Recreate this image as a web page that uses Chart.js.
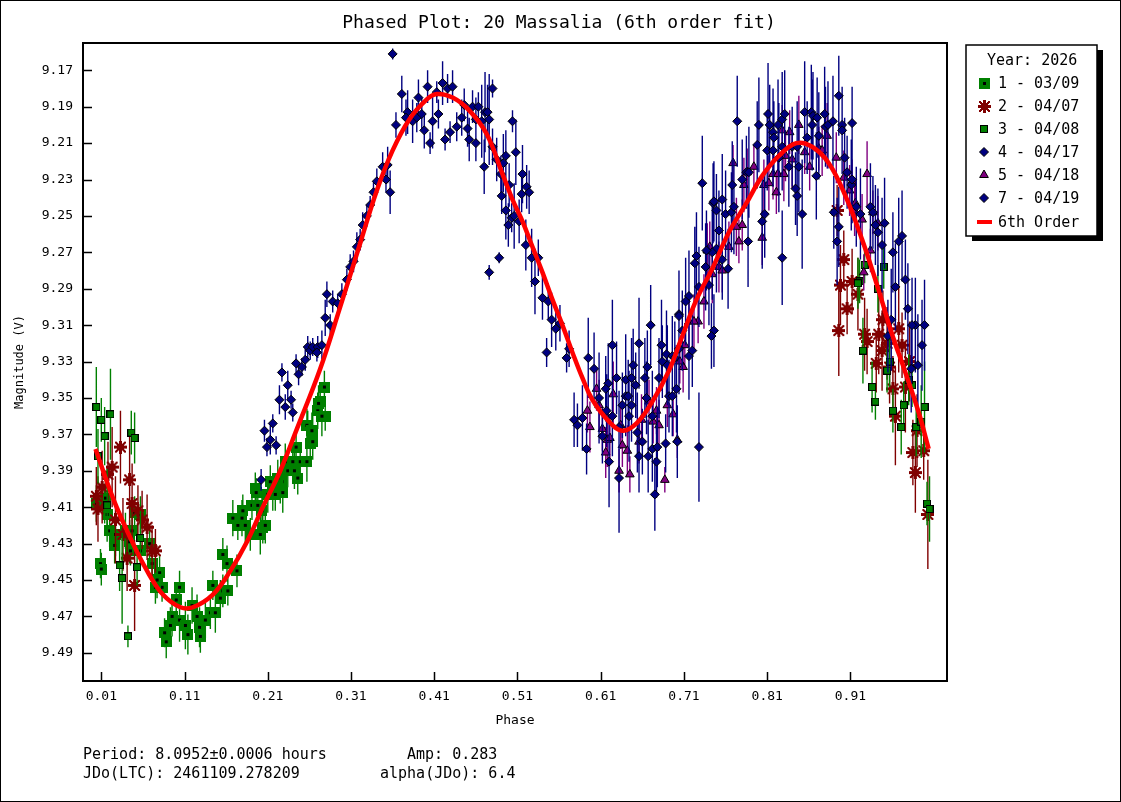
<!DOCTYPE html>
<html>
<head>
<meta charset="utf-8">
<script src="https://cdn.jsdelivr.net/npm/chart.js@4.4.1/dist/chart.umd.min.js"></script>
<style>
  html, body { margin: 0; padding: 0; background: #fff; }
  canvas { display: block; }
</style>
</head>
<body>
<canvas id="chart" width="1121" height="802"></canvas>
<script>
// axis ticks
const phaseTicks = [0.01, 0.11, 0.21, 0.31, 0.41, 0.51, 0.61, 0.71, 0.81, 0.91];
const magTicks = [9.17, 9.19, 9.21, 9.23, 9.25, 9.27, 9.29, 9.31, 9.33, 9.35, 9.37, 9.39, 9.41, 9.43, 9.45, 9.47, 9.49];

const legendTitle = 'Year: 2026';
const legendLabels = ['1 - 03/09', '2 - 04/07', '3 - 04/08', '4 - 04/17', '5 - 04/18', '7 - 04/19', '6th Order'];

// each row: [phase, magnitude, error]
const night1 = [
  [0.004,9.408,0.010],[0.009,9.441,0.008],[0.010,9.444,0.009],[0.015,9.405,0.012],[0.014,9.409,0.010],
  [0.017,9.414,0.011],[0.020,9.423,0.009],[0.026,9.431,0.010],[0.027,9.425,0.012],[0.039,9.423,0.010],
  [0.044,9.429,0.012],[0.050,9.413,0.009],[0.057,9.414,0.010],[0.047,9.423,0.011],[0.045,9.434,0.008],
  [0.057,9.434,0.009],[0.068,9.430,0.008],[0.071,9.441,0.010],[0.080,9.446,0.009],[0.077,9.450,0.010],
  [0.083,9.454,0.008],[0.075,9.454,0.009],[0.104,9.454,0.009],[0.100,9.461,0.008],[0.095,9.470,0.011],
  [0.093,9.475,0.010],[0.086,9.479,0.008],[0.088,9.484,0.009],[0.104,9.472,0.012],[0.111,9.475,0.013],
  [0.114,9.480,0.011],[0.119,9.464,0.010],[0.125,9.470,0.012],[0.128,9.476,0.011],[0.129,9.481,0.009],
  [0.135,9.472,0.010],[0.141,9.468,0.009],[0.147,9.468,0.011],[0.144,9.453,0.008],[0.153,9.460,0.010],
  [0.156,9.456,0.009],[0.162,9.456,0.008],[0.156,9.436,0.009],[0.161,9.441,0.010],[0.173,9.445,0.009],
  [0.168,9.416,0.010],[0.174,9.420,0.008],[0.180,9.412,0.009],[0.179,9.416,0.010],[0.189,9.425,0.009],
  [0.191,9.409,0.008],[0.195,9.400,0.009],[0.201,9.425,0.011],[0.204,9.421,0.009],[0.207,9.420,0.010],
  [0.203,9.412,0.008],[0.213,9.396,0.009],[0.216,9.402,0.010],[0.225,9.400,0.008],[0.228,9.402,0.011],
  [0.227,9.396,0.009],[0.231,9.385,0.010],[0.234,9.390,0.009],[0.240,9.385,0.008],[0.249,9.385,0.010],
  [0.257,9.385,0.011],[0.261,9.375,0.009],[0.264,9.374,0.010],[0.258,9.365,0.008],[0.264,9.368,0.009],
  [0.270,9.357,0.010],[0.273,9.352,0.009],[0.279,9.360,0.008],[0.278,9.344,0.009],[0.271,9.353,0.010],
  [0.275,9.360,0.011],[0.257,9.365,0.009],[0.263,9.368,0.010],[0.244,9.377,0.009],[0.242,9.390,0.010],
  [0.246,9.394,0.009],[0.222,9.394,0.010],[0.219,9.403,0.009],[0.196,9.402,0.008],[0.210,9.403,0.010],
  [0.198,9.409,0.009],[0.183,9.420,0.010]
];
const night2 = [
  [0.033,9.377,0.020],[0.023,9.388,0.022],[0.018,9.392,0.018],[0.044,9.395,0.025],[0.011,9.399,0.020],
  [0.004,9.404,0.016],[0.006,9.411,0.018],[0.047,9.408,0.022],[0.054,9.412,0.014],[0.059,9.417,0.016],
  [0.065,9.421,0.018],[0.027,9.417,0.024],[0.036,9.425,0.020],[0.071,9.434,0.014],[0.075,9.434,0.012],
  [0.041,9.438,0.018],[0.050,9.453,0.025],
  [0.894,9.247,0.014],[0.902,9.274,0.016],[0.898,9.288,0.022],[0.912,9.286,0.018],[0.919,9.293,0.020],
  [0.906,9.301,0.014],[0.896,9.313,0.025],[0.927,9.315,0.020],[0.930,9.319,0.018],[0.944,9.315,0.022],
  [0.949,9.307,0.016],[0.968,9.312,0.024],[0.954,9.320,0.020],[0.972,9.321,0.018],[0.948,9.324,0.022],
  [0.941,9.331,0.016],[0.957,9.333,0.020],[0.981,9.330,0.022],[0.961,9.345,0.018],[0.976,9.344,0.025],
  [0.964,9.360,0.027],[0.990,9.368,0.020],[0.985,9.380,0.018],[0.998,9.379,0.016],[0.988,9.391,0.022],
  [1.003,9.414,0.030]
];
const night3 = [
  [0.004,9.355,0.022],[0.010,9.362,0.012],[0.021,9.359,0.025],[0.014,9.371,0.016],[0.006,9.382,0.015],
  [0.046,9.369,0.012],[0.050,9.372,0.014],[0.017,9.409,0.020],[0.057,9.427,0.015],[0.032,9.442,0.014],
  [0.053,9.443,0.010],[0.035,9.449,0.025],[0.042,9.481,0.006],
  [0.950,9.278,0.012],[0.927,9.277,0.010],[0.921,9.286,0.012],[0.919,9.287,0.014],[0.943,9.290,0.013],
  [0.925,9.324,0.018],[0.936,9.344,0.014],[0.940,9.352,0.010],[0.954,9.335,0.012],[0.957,9.330,0.014],
  [0.961,9.357,0.012],[0.971,9.366,0.015],[0.974,9.354,0.013],[0.984,9.343,0.012],[0.980,9.340,0.014],
  [0.999,9.355,0.025],[0.989,9.366,0.016],[0.995,9.363,0.020],[1.002,9.408,0.012],[1.005,9.411,0.018]
];
const night4 = [
  [0.202,9.395,0.006],[0.206,9.368,0.006],[0.216,9.364,0.005],[0.213,9.373,0.008],[0.209,9.377,0.005],
  [0.220,9.376,0.005],[0.224,9.351,0.008],[0.231,9.355,0.007],[0.238,9.351,0.005],[0.240,9.358,0.005],
  [0.227,9.336,0.005],[0.234,9.343,0.008],[0.247,9.337,0.006],[0.244,9.331,0.005],[0.251,9.333,0.005],
  [0.255,9.329,0.006],[0.258,9.322,0.006],[0.261,9.324,0.005],[0.264,9.322,0.005],[0.270,9.322,0.006],
  [0.269,9.325,0.005],[0.275,9.321,0.008],[0.279,9.306,0.010],[0.285,9.310,0.006],[0.281,9.293,0.007],
  [0.288,9.297,0.006],[0.294,9.298,0.005],[0.299,9.293,0.006],[0.305,9.285,0.006],[0.309,9.278,0.007],
  [0.313,9.275,0.006],[0.317,9.267,0.008],[0.321,9.263,0.006],[0.324,9.255,0.007],[0.329,9.250,0.006],
  [0.333,9.244,0.005],[0.337,9.237,0.006],[0.341,9.231,0.007],[0.348,9.223,0.008],[0.354,9.222,0.010],
  [0.352,9.230,0.007],[0.357,9.237,0.012],[0.360,9.161,0.003],[0.371,9.183,0.010],[0.402,9.179,0.009],
  [0.420,9.177,0.012],[0.426,9.180,0.008],[0.432,9.179,0.009],[0.413,9.182,0.006],[0.391,9.185,0.010],
  [0.378,9.193,0.012],[0.364,9.200,0.007],[0.376,9.196,0.010],[0.384,9.198,0.012],[0.389,9.196,0.008],
  [0.395,9.194,0.009],[0.398,9.203,0.010],[0.408,9.198,0.015],[0.415,9.194,0.008],[0.405,9.210,0.006],
  [0.423,9.208,0.006],[0.429,9.204,0.006],[0.437,9.201,0.008],[0.443,9.196,0.010],[0.446,9.189,0.009],
  [0.456,9.190,0.009],[0.463,9.190,0.008],[0.460,9.197,0.012],[0.467,9.198,0.020],[0.471,9.193,0.022],
  [0.474,9.193,0.015],[0.476,9.197,0.025],[0.450,9.202,0.010],[0.452,9.208,0.012],[0.460,9.210,0.010],
  [0.480,9.180,0.005],[0.480,9.212,0.010],[0.470,9.223,0.015],[0.485,9.219,0.012],[0.496,9.217,0.014],
  [0.493,9.221,0.016],[0.490,9.227,0.010],[0.504,9.198,0.006],[0.508,9.215,0.018],[0.516,9.227,0.016],
  [0.521,9.234,0.012],[0.515,9.238,0.010],[0.524,9.237,0.012],[0.500,9.233,0.012],[0.491,9.239,0.010],
  [0.496,9.247,0.016],[0.499,9.255,0.012],[0.503,9.251,0.008],[0.506,9.250,0.018],[0.520,9.266,0.014],
  [0.527,9.273,0.016],[0.535,9.273,0.010],[0.531,9.286,0.018],[0.540,9.295,0.012],[0.547,9.297,0.010],
  [0.551,9.307,0.015],[0.556,9.312,0.012],[0.561,9.309,0.010],[0.545,9.325,0.008],[0.569,9.328,0.008],
  [0.572,9.323,0.010],[0.488,9.273,0.003],[0.476,9.281,0.004],[0.512,9.253,0.012]
];
const night5 = [
  [0.594,9.357,0.012],[0.597,9.366,0.014],[0.605,9.345,0.012],[0.608,9.354,0.014],[0.612,9.367,0.012],
  [0.618,9.373,0.015],[0.621,9.372,0.012],[0.616,9.380,0.014],[0.625,9.348,0.018],[0.634,9.365,0.013],
  [0.636,9.376,0.012],[0.642,9.379,0.014],[0.632,9.390,0.012],[0.645,9.392,0.010],[0.656,9.374,0.012],
  [0.659,9.362,0.014],[0.668,9.352,0.012],[0.677,9.357,0.013],[0.673,9.363,0.012],[0.680,9.365,0.014],
  [0.690,9.354,0.012],[0.697,9.359,0.012],[0.687,9.395,0.007],[0.702,9.373,0.010],[0.709,9.333,0.014],
  [0.705,9.330,0.012],[0.711,9.321,0.012],[0.716,9.308,0.014],[0.727,9.308,0.012],[0.734,9.297,0.015],
  [0.769,9.221,0.010],[0.848,9.200,0.016],[0.828,9.203,0.014],[0.837,9.204,0.012],[0.832,9.217,0.014],
  [0.840,9.219,0.016],[0.817,9.227,0.014],[0.823,9.227,0.012],[0.830,9.227,0.015],[0.861,9.223,0.013],
  [0.882,9.206,0.018],[0.872,9.213,0.012],[0.876,9.214,0.014],[0.855,9.215,0.012],[0.893,9.218,0.014],
  [0.902,9.229,0.015],[0.912,9.231,0.012],[0.909,9.236,0.014],[0.930,9.227,0.018],[0.916,9.243,0.012],
  [0.924,9.252,0.014],[0.937,9.248,0.012],[0.943,9.254,0.015],[0.934,9.269,0.012],[0.821,9.237,0.012],
  [0.806,9.233,0.014],[0.812,9.232,0.015],[0.794,9.223,0.012],[0.786,9.226,0.013],[0.782,9.233,0.015],
  [0.780,9.255,0.014],[0.773,9.256,0.016],[0.764,9.267,0.014],[0.776,9.264,0.012],[0.804,9.262,0.015],
  [0.752,9.278,0.014],[0.756,9.280,0.012],[0.741,9.267,0.014],[0.738,9.269,0.015],[0.744,9.282,0.016],
  [0.722,9.308,0.015],[0.926,9.281,0.010],[0.915,9.247,0.014]
];
const night7 = [
  [0.578,9.362,0.015],[0.582,9.365,0.012],[0.588,9.361,0.018],[0.593,9.378,0.014],[0.595,9.328,0.022],
  [0.602,9.334,0.020],[0.608,9.350,0.025],[0.617,9.357,0.020],[0.619,9.342,0.022],[0.616,9.345,0.018],
  [0.624,9.321,0.025],[0.629,9.339,0.020],[0.624,9.360,0.022],[0.612,9.371,0.015],[0.620,9.385,0.025],
  [0.632,9.394,0.030],[0.632,9.366,0.020],[0.636,9.354,0.018],[0.640,9.349,0.022],[0.640,9.340,0.025],
  [0.643,9.349,0.020],[0.647,9.339,0.022],[0.649,9.332,0.020],[0.652,9.343,0.018],[0.647,9.354,0.020],
  [0.644,9.360,0.025],[0.654,9.369,0.022],[0.656,9.382,0.020],[0.660,9.374,0.018],[0.656,9.320,0.025],
  [0.666,9.333,0.020],[0.663,9.339,0.022],[0.665,9.350,0.020],[0.672,9.360,0.025],[0.670,9.310,0.022],
  [0.667,9.382,0.020],[0.672,9.378,0.018],[0.678,9.377,0.022],[0.677,9.385,0.020],[0.683,9.321,0.025],
  [0.680,9.339,0.022],[0.684,9.330,0.020],[0.689,9.326,0.024],[0.690,9.332,0.022],[0.688,9.375,0.016],
  [0.692,9.349,0.020],[0.696,9.349,0.022],[0.701,9.345,0.024],[0.702,9.374,0.020],[0.696,9.327,0.022],
  [0.699,9.328,0.020],[0.704,9.323,0.025],[0.708,9.313,0.022],[0.716,9.327,0.024],[0.720,9.324,0.020],
  [0.728,9.377,0.030],[0.675,9.403,0.020],[0.704,9.304,0.020],
  [0.732,9.232,0.026],[0.774,9.198,0.025],[0.745,9.243,0.022],[0.749,9.247,0.020],[0.756,9.241,0.025],
  [0.768,9.233,0.024],[0.780,9.230,0.022],[0.785,9.226,0.020],[0.788,9.226,0.025],[0.798,9.211,0.024],
  [0.800,9.200,0.026],[0.811,9.194,0.028],[0.813,9.200,0.022],[0.817,9.204,0.024],[0.818,9.207,0.020],
  [0.823,9.200,0.025],[0.824,9.218,0.030],[0.828,9.197,0.026],[0.831,9.194,0.024],[0.810,9.214,0.022],
  [0.817,9.214,0.020],[0.828,9.212,0.024],[0.840,9.212,0.022],[0.846,9.212,0.025],[0.855,9.193,0.028],
  [0.863,9.193,0.026],[0.865,9.195,0.024],[0.870,9.196,0.022],[0.864,9.200,0.025],[0.858,9.207,0.020],
  [0.872,9.206,0.024],[0.879,9.194,0.026],[0.880,9.201,0.022],[0.883,9.200,0.024],[0.889,9.198,0.025],
  [0.896,9.184,0.022],[0.900,9.200,0.020],[0.900,9.203,0.024],[0.912,9.199,0.020],[0.869,9.228,0.024],
  [0.852,9.249,0.030],[0.846,9.239,0.022],[0.844,9.235,0.020],[0.848,9.223,0.025],[0.836,9.223,0.022],
  [0.903,9.218,0.022],[0.906,9.226,0.020],[0.911,9.233,0.025],[0.912,9.230,0.024],[0.890,9.248,0.020],
  [0.896,9.256,0.022],[0.894,9.264,0.024],[0.917,9.245,0.022],[0.922,9.249,0.025],[0.934,9.245,0.024],
  [0.937,9.248,0.020],[0.940,9.255,0.022],[0.951,9.254,0.025],[0.943,9.259,0.024],[0.948,9.266,0.026],
  [0.961,9.270,0.022],[0.968,9.264,0.024],[0.972,9.261,0.025],[0.964,9.289,0.024],[0.976,9.285,0.022],
  [0.979,9.301,0.025],[0.988,9.310,0.026],[0.999,9.310,0.025],[0.804,9.253,0.026],[0.807,9.249,0.024],
  [0.787,9.264,0.025],[0.756,9.274,0.022],[0.749,9.268,0.024],[0.744,9.270,0.026],[0.737,9.269,0.022],
  [0.725,9.272,0.024],[0.723,9.276,0.020],[0.736,9.278,0.024],[0.728,9.289,0.022],[0.716,9.294,0.025],
  [0.712,9.297,0.024],[0.828,9.273,0.026],[0.763,9.279,0.022],[0.704,9.305,0.025],[0.746,9.313,0.020],
  [0.743,9.316,0.018],[0.752,9.258,0.022],[0.760,9.249,0.024],[0.767,9.248,0.022],[0.770,9.245,0.026],
  [0.746,9.242,0.022],[0.740,9.288,0.022],[0.959,9.307,0.028],[0.984,9.310,0.026],[0.996,9.321,0.025],
  [0.991,9.332,0.028],[0.983,9.334,0.024],[0.955,9.316,0.020]
];

// fitted curve: [phase, magnitude]
const fitCurve = [
  [0.003,9.378],[0.024,9.405],[0.045,9.427],[0.065,9.445],[0.084,9.458],[0.105,9.465],[0.120,9.465],
  [0.144,9.458],[0.165,9.445],[0.185,9.429],[0.204,9.410],[0.225,9.390],[0.245,9.367],[0.273,9.334],
  [0.297,9.300],[0.321,9.265],[0.341,9.236],[0.360,9.214],[0.380,9.197],[0.401,9.186],[0.413,9.183],
  [0.432,9.185],[0.452,9.192],[0.473,9.205],[0.492,9.227],[0.504,9.241],[0.516,9.253],[0.528,9.267],
  [0.540,9.281],[0.552,9.296],[0.564,9.310],[0.576,9.325],[0.588,9.339],[0.600,9.351],[0.620,9.363],
  [0.636,9.368],[0.653,9.364],[0.672,9.352],[0.692,9.335],[0.708,9.316],[0.725,9.296],[0.744,9.279],
  [0.764,9.259],[0.785,9.243],[0.804,9.228],[0.824,9.217],[0.845,9.210],[0.864,9.212],[0.884,9.221],
  [0.904,9.239],[0.924,9.263],[0.944,9.291],[0.960,9.315],[0.976,9.336],[0.992,9.358],[1.004,9.378]
];

const FONT = '"DejaVu Sans Mono", "Liberation Mono", monospace';
const toPts = rows => rows.map(r => ({ x: r[0], y: r[1], err: r[2] }));

// square markers as small images
function squareMark(size, withDot, withBorder) {
  const c = document.createElement('canvas');
  c.width = c.height = size;
  const g = c.getContext('2d');
  if (withBorder) {
    g.fillStyle = '#000';
    g.fillRect(0, 0, size, size);
    g.fillStyle = '#008000';
    g.fillRect(1, 1, size - 2, size - 2);
  } else {
    g.fillStyle = '#008000';
    g.fillRect(0, 0, size, size);
  }
  if (withDot) {
    g.fillStyle = '#000';
    const d = 3, o = Math.floor((size - d) / 2);
    g.fillRect(o, o, d, d);
  }
  return c;
}
// asterisk-like dark red mark for night 2
function starMark() {
  const size = 13, c = document.createElement('canvas');
  c.width = c.height = size;
  const g = c.getContext('2d');
  g.fillStyle = '#800000';
  g.fillRect(3, 3, 7, 7);
  g.fillRect(5, 0, 3, 13);
  g.fillRect(0, 5, 13, 3);
  g.fillRect(1, 1, 2, 2); g.fillRect(10, 1, 2, 2);
  g.fillRect(1, 10, 2, 2); g.fillRect(10, 10, 2, 2);
  g.fillRect(2, 2, 2, 2); g.fillRect(9, 2, 2, 2);
  g.fillRect(2, 9, 2, 2); g.fillRect(9, 9, 2, 2);
  return c;
}
const mark1 = squareMark(11, true, false);
const mark3 = squareMark(8, false, true);
const mark2 = starMark();

function drawDiamond(ctx, x, y, r, color) {
  ctx.save();
  ctx.fillStyle = color; ctx.strokeStyle = '#000'; ctx.lineWidth = 1;
  ctx.beginPath();
  ctx.moveTo(x, y - r); ctx.lineTo(x + r, y); ctx.lineTo(x, y + r); ctx.lineTo(x - r, y);
  ctx.closePath(); ctx.fill(); ctx.stroke();
  ctx.restore();
}
function drawTriangle(ctx, x, y, r, color) {
  ctx.save();
  ctx.fillStyle = color; ctx.strokeStyle = '#000'; ctx.lineWidth = 1;
  ctx.beginPath();
  ctx.moveTo(x, y - r);
  ctx.lineTo(x + r * 0.866, y + r * 0.5);
  ctx.lineTo(x - r * 0.866, y + r * 0.5);
  ctx.closePath(); ctx.fill(); ctx.stroke();
  ctx.restore();
}

// vertical error bars drawn under each dataset's markers
const errorBars = {
  id: 'errorBars',
  beforeDatasetDraw(chart, args) {
    const ds = chart.data.datasets[args.index];
    if (!ds.errColor) return;
    const { ctx, chartArea, scales: { x, y } } = chart;
    ctx.save();
    ctx.beginPath();
    ctx.rect(chartArea.left, chartArea.top, chartArea.right - chartArea.left, chartArea.bottom - chartArea.top);
    ctx.clip();
    ctx.strokeStyle = ds.errColor;
    ctx.lineWidth = 1.4;
    ctx.beginPath();
    ds.data.forEach(p => {
      const px = x.getPixelForValue(p.x);
      ctx.moveTo(px, y.getPixelForValue(p.y - p.err));
      ctx.lineTo(px, y.getPixelForValue(p.y + p.err));
    });
    ctx.stroke();
    ctx.restore();
  }
};

// white page, frame, inward ticks, title, legend box and footer text
const decorations = {
  id: 'decorations',
  beforeDraw(chart) {
    const ctx = chart.ctx;
    ctx.save();
    ctx.fillStyle = '#fff';
    ctx.fillRect(0, 0, chart.width, chart.height);
    ctx.restore();
  },
  afterDraw(chart) {
    const { ctx, chartArea: a, scales: { x, y } } = chart;
    ctx.save();
    // outer border
    ctx.strokeStyle = '#000';
    ctx.lineWidth = 1;
    ctx.strokeRect(0.5, 0.5, chart.width - 1, chart.height - 1);
    // plot frame
    ctx.lineWidth = 2;
    ctx.strokeRect(a.left, a.top, a.right - a.left, a.bottom - a.top);
    // inward ticks
    ctx.lineWidth = 1.5;
    ctx.beginPath();
    y.ticks.forEach(t => {
      const py = Math.round(y.getPixelForValue(t.value)) + 0.5;
      ctx.moveTo(a.left, py); ctx.lineTo(a.left + 9, py);
    });
    x.ticks.forEach(t => {
      const px = Math.round(x.getPixelForValue(t.value)) + 0.5;
      ctx.moveTo(px, a.bottom); ctx.lineTo(px, a.bottom - 9);
    });
    ctx.stroke();

    // title
    ctx.fillStyle = '#000';
    ctx.font = '18px ' + FONT;
    ctx.textAlign = 'center';
    ctx.textBaseline = 'alphabetic';
    ctx.fillText('Phased Plot: 20 Massalia (6th order fit)', 559, 28);

    // legend box with shadow
    const bx = 966, by = 45, bw = 131, bh = 191;
    ctx.fillStyle = '#000';
    ctx.fillRect(bx + 6, by + 5, bw, bh);
    ctx.fillStyle = '#fff';
    ctx.fillRect(bx, by, bw, bh);
    ctx.lineWidth = 1.5;
    ctx.strokeRect(bx, by, bw, bh);
    ctx.fillStyle = '#000';
    ctx.font = '15px ' + FONT;
    ctx.textAlign = 'left';
    ctx.fillText(legendTitle, 987, 65);
    const rowY = [83, 106, 129, 152, 175, 198, 222];
    legendLabels.forEach((lab, i) => {
      const my = rowY[i];
      if (i === 0) ctx.drawImage(mark1, 984 - 5, my - 5);
      else if (i === 1) ctx.drawImage(mark2, 984 - 6, my - 6);
      else if (i === 2) ctx.drawImage(mark3, 984 - 4, my - 4);
      else if (i === 3 || i === 5) drawDiamond(ctx, 984, my, 4.5, '#000080');
      else if (i === 4) drawTriangle(ctx, 984, my, 5, '#800080');
      else {
        ctx.strokeStyle = '#ff0000';
        ctx.lineWidth = 4;
        ctx.beginPath();
        ctx.moveTo(977, my); ctx.lineTo(992, my);
        ctx.stroke();
      }
      ctx.fillStyle = '#000';
      ctx.fillText(lab, 998, my + 5);
    });

    // footer text
    ctx.font = '15px ' + FONT;
    ctx.fillText('Period: 8.0952\u00b10.0006 hours', 83, 759);
    ctx.fillText('Amp: 0.283', 407, 759);
    ctx.fillText('JDo(LTC): 2461109.278209', 83, 778);
    ctx.fillText('alpha(JDo): 6.4', 380, 778);
    ctx.restore();
  }
};

new Chart(document.getElementById('chart'), {
  type: 'scatter',
  data: {
    datasets: [
      {
        label: '6th Order', data: fitCurve.map(r => ({ x: r[0], y: r[1] })),
        showLine: true, borderColor: '#ff0000', borderWidth: 4.5, pointRadius: 0,
        tension: 0.4, order: 0
      },
      {
        label: '7 - 04/19', data: toPts(night7), errColor: '#000080', order: 1,
        pointStyle: 'rectRot', pointRadius: 4.5, pointBackgroundColor: '#000080',
        pointBorderColor: '#000', pointBorderWidth: 1
      },
      {
        label: '5 - 04/18', data: toPts(night5), errColor: '#800080', order: 2,
        pointStyle: 'triangle', pointRadius: 5, pointBackgroundColor: '#800080',
        pointBorderColor: '#000', pointBorderWidth: 1
      },
      {
        label: '4 - 04/17', data: toPts(night4), errColor: '#000080', order: 3,
        pointStyle: 'rectRot', pointRadius: 4.5, pointBackgroundColor: '#000080',
        pointBorderColor: '#000', pointBorderWidth: 1
      },
      {
        label: '3 - 04/08', data: toPts(night3), errColor: '#008000', order: 4,
        pointStyle: mark3, pointRadius: 4
      },
      {
        label: '2 - 04/07', data: toPts(night2), errColor: '#800000', order: 5,
        pointStyle: mark2, pointRadius: 6
      },
      {
        label: '1 - 03/09', data: toPts(night1), errColor: '#008000', order: 6,
        pointStyle: mark1, pointRadius: 5
      }
    ]
  },
  options: {
    responsive: false,
    animation: false,
    devicePixelRatio: 1,
    events: [],
    layout: { padding: { left: 0, right: 174, top: 43, bottom: 70 } },
    plugins: { legend: { display: false }, tooltip: { enabled: false } },
    scales: {
      x: {
        type: 'linear', min: -0.012, max: 1.026,
        grid: { display: false, drawTicks: false },
        border: { display: false },
        afterFit: s => { s.height = 51; },
        afterBuildTicks: s => { s.ticks = phaseTicks.map(v => ({ value: v })); },
        ticks: {
          padding: 8, color: '#000', autoSkip: false, maxRotation: 0,
          font: { family: FONT, size: 13 },
          callback: v => v.toFixed(2)
        },
        title: {
          display: true, text: 'Phase', color: '#000',
          font: { family: FONT, size: 13 }, padding: { top: 0, bottom: 4 }
        }
      },
      y: {
        type: 'linear', reverse: true, min: 9.155, max: 9.5055,
        grid: { display: false, drawTicks: false },
        border: { display: false },
        afterFit: s => { s.width = 83; },
        afterBuildTicks: s => { s.ticks = magTicks.map(v => ({ value: v })); },
        ticks: {
          padding: 10, color: '#000', autoSkip: false,
          font: { family: FONT, size: 13 },
          callback: v => v.toFixed(2)
        },
        title: {
          display: true, text: 'Magnitude (V)', color: '#000',
          font: { family: FONT, size: 12 }, padding: { top: 13, bottom: 0 }
        }
      }
    }
  },
  plugins: [errorBars, decorations]
});
</script>
</body>
</html>
